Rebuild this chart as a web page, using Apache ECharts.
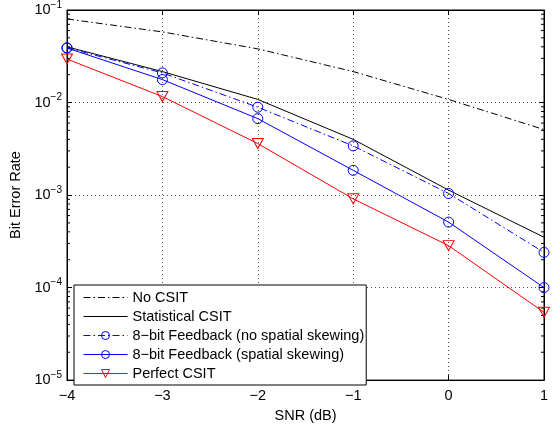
<!DOCTYPE html>
<html>
<head>
<meta charset="utf-8">
<script src="https://cdn.jsdelivr.net/npm/echarts@6/dist/echarts.min.js"></script>
<style>
  html, body { margin: 0; padding: 0; background: #fff; }
  #chart { width: 557px; height: 428px; }
</style>
</head>
<body>
<div id="chart"></div>
<script>
// SNR (dB) on x
var snr = [-4, -3, -2, -1, 0, 1];
// bit error rates
var noCsit = [0.080, 0.058, 0.038, 0.0216, 0.0108, 0.0051];
var statCsit = [0.040, 0.0216, 0.0108, 0.0040, 0.00113, 0.00035];
var fbNoSkew = [0.039, 0.0209, 0.0089, 0.0034, 0.00104, 0.00024];
var fbSkew = [0.0388, 0.0177, 0.0067, 0.00185, 0.00051, 0.0001];
var perfect = [0.0295, 0.0116, 0.0036, 0.00091, 0.000284, 0.000054];
var names = ['No CSIT', 'Statistical CSIT', '8\u2212bit Feedback (no spatial skewing)',
             '8\u2212bit Feedback (spatial skewing)', 'Perfect CSIT'];

// log minor tick positions (axis decoration only)
var minorTicks = [];
[1e-5, 1e-4, 1e-3, 1e-2].forEach(function (d) {
    for (var k = 2; k <= 9; k++) minorTicks.push(k * d);
});

function pairs(ys) {
    return snr.map(function (x, i) { return [x, ys[i]]; });
}

var myChart = echarts.init(document.getElementById('chart'));

var font = 'Liberation Sans, Arial, sans-serif';
var fs = 14.5;
var dashDot = [7, 3, 1.5, 3];
var hidden = { color: 'rgba(0,0,0,0)', borderColor: 'rgba(0,0,0,0)', borderWidth: 0 };

var option = {
    backgroundColor: '#fff',
    animation: false,
    textStyle: { fontFamily: font },
    grid: {
        left: 67, right: 13, top: 10, bottom: 41,
        show: true, borderColor: '#000', borderWidth: 1
    },
    legend: {
        orient: 'vertical',
        left: 74, top: 285,
        data: names,
        itemWidth: 44, itemHeight: 10,
        itemGap: 4,
        padding: [5, 2, 4, 9],
        backgroundColor: '#fff',
        borderColor: '#000', borderWidth: 1, borderRadius: 0,
        lineStyle: { width: 1 },
        itemStyle: { borderWidth: 1 },
        textStyle: { fontSize: fs, lineHeight: 14, color: '#000', fontFamily: font }
    },
    xAxis: [{
        type: 'value', min: -4, max: 1, interval: 1,
        name: 'SNR (dB)', nameLocation: 'middle', nameGap: 25,
        nameTextStyle: { fontSize: fs, color: '#000' },
        axisLine: { onZero: false, lineStyle: { color: '#000' } },
        axisTick: { inside: true, length: 5, lineStyle: { color: '#000' } },
        axisLabel: {
            fontSize: fs, color: '#000', margin: 8,
            formatter: function (v) { return String(v).replace('-', '\u2212'); }
        },
        splitLine: { show: true, lineStyle: { color: '#555', type: [1, 3], width: 1 } }
    }, {
        type: 'value', min: -4, max: 1, interval: 1, position: 'top',
        axisLine: { onZero: false, lineStyle: { color: '#000' } },
        axisTick: { inside: true, length: 5, lineStyle: { color: '#000' } },
        axisLabel: { show: false }, splitLine: { show: false }
    }],
    yAxis: [{
        type: 'log', logBase: 10, min: 1e-5, max: 1e-1,
        name: 'Bit Error Rate', nameLocation: 'middle', nameGap: 40,
        nameTextStyle: { fontSize: fs, color: '#000' },
        axisLine: { onZero: false, lineStyle: { color: '#000' } },
        axisTick: { inside: true, length: 5, lineStyle: { color: '#000' } },
        axisLabel: {
            color: '#000', margin: 5,
            formatter: function (v) {
                var e = Math.round(Math.log10(v));
                return '{b|10}{s|' + String(e).replace('-', '\u2212') + '}';
            },
            rich: {
                b: { fontSize: fs, color: '#000', fontFamily: font },
                s: { fontSize: 10, color: '#000', fontFamily: font, padding: [0, 0, 10, 0] }
            }
        },
        splitLine: { show: true, lineStyle: { color: '#555', type: [1, 3], width: 1 } }
    }, {
        type: 'log', logBase: 10, min: 1e-5, max: 1e-1, position: 'right',
        axisLine: { onZero: false, lineStyle: { color: '#000' } },
        axisTick: { inside: true, length: 5, lineStyle: { color: '#000' } },
        axisLabel: { show: false }, splitLine: { show: false }
    }],
    series: [{
        name: names[0], type: 'line', data: pairs(noCsit),
        symbol: 'circle', showSymbol: false, color: '#000',
        itemStyle: hidden,
        lineStyle: { width: 1, color: '#000', type: dashDot }
    }, {
        name: names[1], type: 'line', data: pairs(statCsit),
        symbol: 'circle', showSymbol: false, color: '#000',
        itemStyle: hidden,
        lineStyle: { width: 1, color: '#000' }
    }, {
        name: names[2], type: 'line', data: pairs(fbNoSkew),
        symbol: 'circle', symbolSize: 10, color: '#0000ff',
        itemStyle: { color: 'rgba(255,255,255,0)', borderColor: '#0000ff', borderWidth: 1 },
        lineStyle: { width: 1, color: '#0000ff', type: dashDot }
    }, {
        name: names[3], type: 'line', data: pairs(fbSkew),
        symbol: 'circle', symbolSize: 10, color: '#0000ff',
        itemStyle: { color: 'rgba(255,255,255,0)', borderColor: '#0000ff', borderWidth: 1 },
        lineStyle: { width: 1, color: '#0000ff' }
    }, {
        name: names[4], type: 'line', data: pairs(perfect),
        symbol: 'triangle', symbolRotate: 180, symbolSize: [11, 10], color: '#ff0000',
        itemStyle: { color: 'rgba(255,255,255,0)', borderColor: '#ff0000', borderWidth: 1 },
        lineStyle: { width: 1, color: '#ff0000' }
    }, {
        type: 'custom', silent: true,
        data: minorTicks,
        renderItem: function (params, api) {
            var v = api.value(0);
            var l = api.coord([-4, v]);
            var r = api.coord([1, v]);
            return {
                type: 'group',
                children: [{
                    type: 'line', shape: { x1: l[0], y1: l[1], x2: l[0] + 3, y2: l[1] },
                    style: { stroke: '#000', lineWidth: 1 }
                }, {
                    type: 'line', shape: { x1: r[0], y1: r[1], x2: r[0] - 3, y2: r[1] },
                    style: { stroke: '#000', lineWidth: 1 }
                }]
            };
        },
        encode: { y: 0 }
    }]
};

myChart.setOption(option);
</script>
</body>
</html>
